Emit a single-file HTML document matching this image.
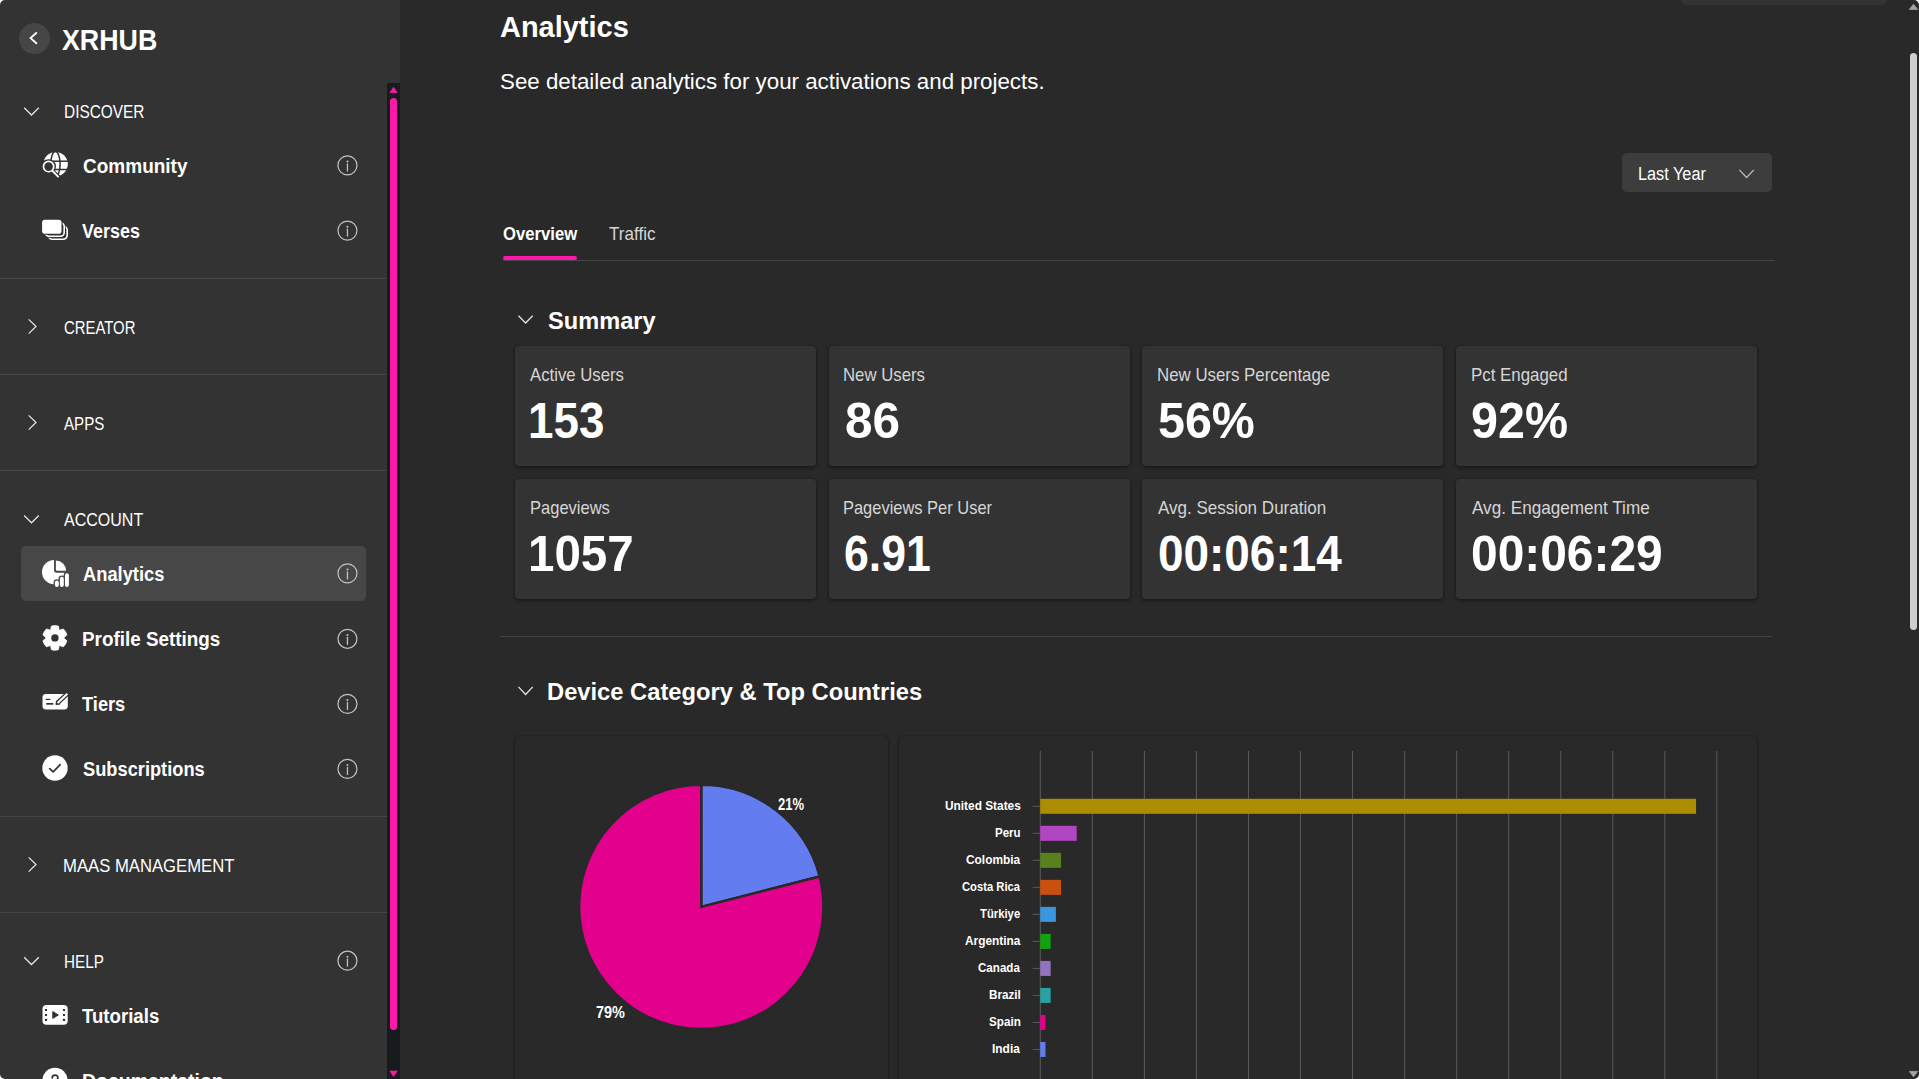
<!DOCTYPE html>
<html lang="en"><head><meta charset="utf-8"><title>XRHUB - Analytics</title>
<style>
html,body{margin:0;padding:0;width:1919px;height:1079px;overflow:hidden;background:#292929;}
body{position:relative;font-family:"Liberation Sans", sans-serif;-webkit-font-smoothing:antialiased;}
.a{position:absolute;display:block;}
.t{position:absolute;display:block;white-space:nowrap;transform-origin:0 50%;font-family:"Liberation Sans", sans-serif;}
.sep{position:absolute;left:0;width:387px;height:1px;background:#454545;}
.card{position:absolute;width:301px;height:119.5px;background:#333333;border-radius:4px;box-shadow:0 0 2px rgba(0,0,0,.30),0 2px 4px rgba(0,0,0,.34);}
.ccard{position:absolute;background:#292929;border-radius:5px;box-shadow:0 0 2px rgba(0,0,0,.30),0 2px 4px rgba(0,0,0,.34);}

</style></head><body>
<div class="a" style="left:0;top:0;width:1919px;height:1079px;background:#292929"></div>
<div class="a" style="left:0;top:0;width:400px;height:1079px;background:#333333"></div>
<div class="a" style="left:387px;top:83px;width:13px;height:996px;background:#181b1d"></div>
<div class="a" style="left:390px;top:98px;width:7px;height:932px;background:#ff17a9;border-radius:3.5px"></div>
<svg class="a" style="left:387px;top:83px" width="13" height="14" viewBox="0 0 13 14"><path d="M2.8 9.8 L6.55 4.2 L10.3 9.8 Z" fill="#ff17a9" stroke="#ff17a9" stroke-width="0.6" stroke-linejoin="round"/></svg>
<svg class="a" style="left:387px;top:1065px" width="13" height="14" viewBox="0 0 13 14"><path d="M2.8 6.0 L6.55 11.6 L10.3 6.0 Z" fill="#ff17a9" stroke="#ff17a9" stroke-width="0.6" stroke-linejoin="round"/></svg>
<div class="a" style="left:18.8px;top:22.8px;width:31.2px;height:31.2px;border-radius:50%;background:#464646"></div>
<svg class="a" style="left:24px;top:28px" width="20" height="20" viewBox="0 0 20 20"><path d="M12.9 4.4 L6.6 10.1 L12.9 15.8" fill="none" stroke="#fff" stroke-width="1.9" stroke-linecap="butt"/></svg>
<div class="sep" style="top:278px"></div>
<div class="sep" style="top:374px"></div>
<div class="sep" style="top:470px"></div>
<div class="sep" style="top:816px"></div>
<div class="sep" style="top:912px"></div>
<div class="a" style="left:21px;top:546px;width:345px;height:55px;border-radius:5px;background:#474747"></div>
<svg class="a" style="left:21px;top:105px" width="22" height="14" viewBox="0 0 22 14"><g transform="translate(0.750 0.300)"><path d="M2.4 2.4 L9.75 9.70 L17.10 2.4" fill="none" stroke="#e6e6e6" stroke-width="1.25" stroke-linecap="butt" stroke-linejoin="miter"/></g></svg>
<svg class="a" style="left:26px;top:317px" width="14" height="20" viewBox="0 0 14 20"><g transform="translate(0.300 0.000)"><path d="M2.4 2.4 L9.70 9.50 L2.4 16.60" fill="none" stroke="#e6e6e6" stroke-width="1.25" stroke-linecap="butt" stroke-linejoin="miter"/></g></svg>
<svg class="a" style="left:26px;top:413px" width="14" height="20" viewBox="0 0 14 20"><g transform="translate(0.300 0.000)"><path d="M2.4 2.4 L9.70 9.50 L2.4 16.60" fill="none" stroke="#e6e6e6" stroke-width="1.25" stroke-linecap="butt" stroke-linejoin="miter"/></g></svg>
<svg class="a" style="left:21px;top:513px" width="22" height="14" viewBox="0 0 22 14"><g transform="translate(0.750 0.100)"><path d="M2.4 2.4 L9.75 9.70 L17.10 2.4" fill="none" stroke="#e6e6e6" stroke-width="1.25" stroke-linecap="butt" stroke-linejoin="miter"/></g></svg>
<svg class="a" style="left:26px;top:855px" width="14" height="20" viewBox="0 0 14 20"><g transform="translate(0.300 0.000)"><path d="M2.4 2.4 L9.70 9.50 L2.4 16.60" fill="none" stroke="#e6e6e6" stroke-width="1.25" stroke-linecap="butt" stroke-linejoin="miter"/></g></svg>
<svg class="a" style="left:21px;top:954px" width="22" height="14" viewBox="0 0 22 14"><g transform="translate(0.750 0.800)"><path d="M2.4 2.4 L9.75 9.70 L17.10 2.4" fill="none" stroke="#e6e6e6" stroke-width="1.25" stroke-linecap="butt" stroke-linejoin="miter"/></g></svg>
<svg class="a" style="left:335px;top:153px" width="26" height="26" viewBox="0 0 26 26"><g transform="translate(0.450 0.400)"><g transform="translate(12 12)"><circle r="9.5" fill="none" stroke="#c4c4c4" stroke-width="1.2"/><circle cy="-3.9" r="1.0" fill="#c4c4c4"/><path d="M0 -1.5 V5.5" stroke="#c4c4c4" stroke-width="1.25" stroke-linecap="round"/></g></g></svg>
<svg class="a" style="left:335px;top:218px" width="26" height="26" viewBox="0 0 26 26"><g transform="translate(0.450 0.600)"><g transform="translate(12 12)"><circle r="9.5" fill="none" stroke="#c4c4c4" stroke-width="1.2"/><circle cy="-3.9" r="1.0" fill="#c4c4c4"/><path d="M0 -1.5 V5.5" stroke="#c4c4c4" stroke-width="1.25" stroke-linecap="round"/></g></g></svg>
<svg class="a" style="left:335px;top:561px" width="26" height="26" viewBox="0 0 26 26"><g transform="translate(0.450 0.400)"><g transform="translate(12 12)"><circle r="9.5" fill="none" stroke="#c4c4c4" stroke-width="1.2"/><circle cy="-3.9" r="1.0" fill="#c4c4c4"/><path d="M0 -1.5 V5.5" stroke="#c4c4c4" stroke-width="1.25" stroke-linecap="round"/></g></g></svg>
<svg class="a" style="left:335px;top:626px" width="26" height="26" viewBox="0 0 26 26"><g transform="translate(0.450 0.800)"><g transform="translate(12 12)"><circle r="9.5" fill="none" stroke="#c4c4c4" stroke-width="1.2"/><circle cy="-3.9" r="1.0" fill="#c4c4c4"/><path d="M0 -1.5 V5.5" stroke="#c4c4c4" stroke-width="1.25" stroke-linecap="round"/></g></g></svg>
<svg class="a" style="left:335px;top:691px" width="26" height="26" viewBox="0 0 26 26"><g transform="translate(0.450 0.900)"><g transform="translate(12 12)"><circle r="9.5" fill="none" stroke="#c4c4c4" stroke-width="1.2"/><circle cy="-3.9" r="1.0" fill="#c4c4c4"/><path d="M0 -1.5 V5.5" stroke="#c4c4c4" stroke-width="1.25" stroke-linecap="round"/></g></g></svg>
<svg class="a" style="left:335px;top:756px" width="26" height="26" viewBox="0 0 26 26"><g transform="translate(0.450 0.900)"><g transform="translate(12 12)"><circle r="9.5" fill="none" stroke="#c4c4c4" stroke-width="1.2"/><circle cy="-3.9" r="1.0" fill="#c4c4c4"/><path d="M0 -1.5 V5.5" stroke="#c4c4c4" stroke-width="1.25" stroke-linecap="round"/></g></g></svg>
<svg class="a" style="left:335px;top:948px" width="26" height="26" viewBox="0 0 26 26"><g transform="translate(0.450 0.700)"><g transform="translate(12 12)"><circle r="9.5" fill="none" stroke="#c4c4c4" stroke-width="1.2"/><circle cy="-3.9" r="1.0" fill="#c4c4c4"/><path d="M0 -1.5 V5.5" stroke="#c4c4c4" stroke-width="1.25" stroke-linecap="round"/></g></g></svg>
<svg class="a" style="left:36px;top:146px" width="41" height="41" viewBox="0 0 41 41"><g transform="translate(0.000 0.000)"><circle cx="19.6" cy="18.1" r="12.2" fill="#fff"/><g fill="none" stroke="#333333" stroke-width="1.5"><path d="M6 15.2 H33"/><path d="M6 23.5 H33"/><ellipse cx="19.4" cy="18.1" rx="4.7" ry="12.6"/></g><circle cx="12.6" cy="20.6" r="7.4" fill="#333333"/><path d="M12.6 20.6 L23.5 32 L5 33 L4 22 Z" fill="#333333"/><path d="M16.6 25.3 L22.3 30.9" stroke="#333333" stroke-width="4.4" stroke-linecap="round"/><circle cx="12.6" cy="20.6" r="5.15" fill="#333333" stroke="#fff" stroke-width="1.7"/><path d="M16.6 25.0 L22.1 30.6" stroke="#fff" stroke-width="1.9" stroke-linecap="round"/></g></svg>
<svg class="a" style="left:36px;top:211px" width="41" height="41" viewBox="0 0 41 41"><g transform="translate(0.000 0.000)"><rect x="12.3" y="15.0" width="18.9" height="13.3" rx="4.2" fill="none" stroke="#fff" stroke-width="1.6"/><rect x="8.4" y="10.9" width="21.2" height="15.9" rx="3.6" fill="#333333"/><rect x="9.3" y="11.8" width="18.9" height="13.5" rx="3.8" fill="none" stroke="#fff" stroke-width="1.6"/><rect x="5.0" y="7.6" width="21.6" height="16.2" rx="3.6" fill="#333333"/><rect x="6.1" y="8.75" width="19.4" height="14.0" rx="2.8" fill="#fff"/></g></svg>
<svg class="a" style="left:36px;top:554px" width="41" height="41" viewBox="0 0 41 41"><g transform="translate(0.000 0.000)"><path d="M18.0 6.05 A12.1 12.1 0 1 0 30.2 18.7 L20.6 18.7 A2.6 2.6 0 0 1 18.0 16.1 Z" fill="#fff"/><path d="M19.9 6.5 V15.4 A1.3 1.3 0 0 0 21.2 16.7 H30.1 A10.4 10.4 0 0 0 19.9 6.5 Z" fill="#fff"/><g stroke="#474747" stroke-width="6.6" stroke-linecap="round"><path d="M20.85 28.6 V30.9"/><path d="M25.85 24.8 V30.9"/><path d="M30.95 21.1 V30.9"/></g><g stroke="#fff" stroke-width="3.9" stroke-linecap="round"><path d="M20.85 28.5 V30.95"/><path d="M25.85 24.8 V30.95"/><path d="M30.95 21.1 V30.95"/></g></g></svg>
<svg class="a" style="left:36px;top:619px" width="41" height="41" viewBox="0 0 41 41"><g transform="translate(0.000 0.000)"><path d="M23.25 11.37 L22.39 7.11 A12.3 12.3 0 0 0 15.41 7.11 L14.55 11.37 L10.43 9.98 A12.3 12.3 0 0 0 6.94 16.03 L10.20 18.90 L6.94 21.77 A12.3 12.3 0 0 0 10.43 27.82 L14.55 26.43 L15.41 30.69 A12.3 12.3 0 0 0 22.39 30.69 L23.25 26.43 L27.37 27.82 A12.3 12.3 0 0 0 30.86 21.77 L27.60 18.90 L30.86 16.03 A12.3 12.3 0 0 0 27.37 9.98 Z" fill="#fff" stroke="#fff" stroke-width="0.8" stroke-linejoin="round"/><circle cx="18.9" cy="18.9" r="3.7" fill="#333333"/></g></svg>
<svg class="a" style="left:36px;top:682px" width="41" height="41" viewBox="0 0 41 41"><g transform="translate(0.000 0.000)"><rect x="6.5" y="11.9" width="25.3" height="15.5" rx="3.4" fill="#fff"/><path d="M10.2 17.4 H13.8" stroke="#333333" stroke-width="1.4" stroke-linecap="round"/><path d="M10.2 21.85 H17.3" stroke="#333333" stroke-width="1.7" stroke-linecap="butt"/><path d="M21.2 21.3 L31.2 11.9" stroke="#333333" stroke-width="4.6" stroke-linecap="butt"/><path d="M20.3 22.2 l0.6 -2.9 l2.4 2.3 z" fill="#333333" stroke="#333333" stroke-width="1.6" stroke-linejoin="round"/><path d="M21.6 21.0 L31.3 11.8" stroke="#fff" stroke-width="2.1" stroke-linecap="butt"/></g></svg>
<svg class="a" style="left:35px;top:748px" width="41" height="41" viewBox="0 0 41 41"><g transform="translate(0.000 0.000)"><circle cx="20" cy="20" r="12.7" fill="#fff"/><path d="M14.7 20.6 L18.2 23.9 L25.2 16.6" fill="none" stroke="#333333" stroke-width="1.7" stroke-linecap="round" stroke-linejoin="round"/></g></svg>
<svg class="a" style="left:36px;top:995px" width="41" height="41" viewBox="0 0 41 41"><g transform="translate(0.000 0.000)"><rect x="6.5" y="9.9" width="25.2" height="19.9" rx="4.0" fill="#fff"/><rect x="8.95" y="13.95" width="2.1" height="2.1" rx="0.3" fill="#333333"/><rect x="8.95" y="18.9" width="2.1" height="2.1" rx="0.3" fill="#333333"/><rect x="8.95" y="23.849999999999998" width="2.1" height="2.1" rx="0.3" fill="#333333"/><rect x="26.95" y="13.95" width="2.1" height="2.1" rx="0.3" fill="#333333"/><rect x="26.95" y="18.9" width="2.1" height="2.1" rx="0.3" fill="#333333"/><rect x="26.95" y="23.849999999999998" width="2.1" height="2.1" rx="0.3" fill="#333333"/><path d="M16.8 16.6 V23.4 L22.3 20 Z" fill="#333333" stroke="#333333" stroke-width="1.0" stroke-linejoin="round"/></g></svg>
<svg class="a" style="left:35px;top:1060px" width="41" height="42" viewBox="0 0 41 42"><g transform="translate(0.000 0.400)"><circle cx="20" cy="20" r="12.7" fill="#fff"/><path d="M17.2 17.6 C17.2 13.8 22.9 13.9 22.9 17.3 C22.9 19.6 20.1 19.6 20.1 22.3" fill="none" stroke="#333333" stroke-width="1.7" stroke-linecap="round"/><circle cx="20.1" cy="25.3" r="1.1" fill="#333333"/></g></svg>
<div class="a" style="left:1681px;top:-4px;width:206px;height:9px;background:#333;border-radius:0 0 5px 5px"></div>
<div class="a" style="left:1910px;top:52.5px;width:7px;height:577px;background:#cfcfcf;border-radius:3.5px"></div>
<svg class="a" style="left:1906px;top:0" width="13" height="14" viewBox="0 0 13 14"><path d="M3.3 9.4 L7.5 4.2 L11.7 9.4 Z" fill="#a3a3a3" stroke="#a3a3a3" stroke-width="0.8" stroke-linejoin="round"/></svg>
<svg class="a" style="left:1906px;top:1065px" width="13" height="14" viewBox="0 0 13 14"><path d="M3.3 6.4 L7.5 11.8 L11.7 6.4 Z" fill="#a3a3a3" stroke="#a3a3a3" stroke-width="0.8" stroke-linejoin="round"/></svg>
<div class="a" style="left:1622px;top:153px;width:150px;height:39px;border-radius:5px;background:#3d3d3d"></div>
<svg class="a" style="left:1736px;top:167px" width="22" height="14" viewBox="0 0 22 14"><g transform="translate(0.950 0.400)"><path d="M2.4 2.4 L9.65 10.10 L16.90 2.4" fill="none" stroke="#bdbdbd" stroke-width="1.2" stroke-linecap="butt" stroke-linejoin="miter"/></g></svg>
<div class="a" style="left:503px;top:260px;width:1272px;height:1px;background:#454545"></div>
<div class="a" style="left:503px;top:256px;width:74px;height:4px;border-radius:2px;background:#ff17a9"></div>
<svg class="a" style="left:516px;top:313px" width="21" height="14" viewBox="0 0 21 14"><g transform="translate(0.100 0.300)"><path d="M2.4 2.4 L9.50 9.70 L16.60 2.4" fill="none" stroke="#e6e6e6" stroke-width="1.25" stroke-linecap="butt" stroke-linejoin="miter"/></g></svg>
<svg class="a" style="left:516px;top:684px" width="21" height="15" viewBox="0 0 21 15"><g transform="translate(0.100 0.400)"><path d="M2.4 2.4 L9.50 10.10 L16.60 2.4" fill="none" stroke="#e6e6e6" stroke-width="1.25" stroke-linecap="butt" stroke-linejoin="miter"/></g></svg>
<div class="a" style="left:500px;top:636px;width:1272px;height:1px;background:#454545"></div>
<div class="card" style="left:515px;top:346.4px"></div>
<div class="card" style="left:829px;top:346.4px"></div>
<div class="card" style="left:1142px;top:346.4px"></div>
<div class="card" style="left:1456px;top:346.4px"></div>
<div class="card" style="left:515px;top:479.4px"></div>
<div class="card" style="left:829px;top:479.4px"></div>
<div class="card" style="left:1142px;top:479.4px"></div>
<div class="card" style="left:1456px;top:479.4px"></div>
<div class="ccard" style="left:515px;top:736.3px;width:373px;height:400px"></div>
<div class="ccard" style="left:899.3px;top:736.3px;width:858px;height:400px"></div>
<svg class="a" style="left:0;top:0" width="1919" height="1079" viewBox="0 0 1919 1079"><path d="M701.3 906.9 L701.3 784.8 A122.1 122.1 0 0 1 819.56 876.53 Z" fill="#637cef" stroke="#292929" stroke-width="2.4" stroke-linejoin="miter"/><path d="M701.3 906.9 L819.56 876.53 A122.1 122.1 0 1 1 701.3 784.8 Z" fill="#e3008c" stroke="#292929" stroke-width="2.4" stroke-linejoin="miter"/><path d="M1040.30 751 V1079" stroke="#5a5a5a" stroke-width="1"/><path d="M1092.35 751 V1079" stroke="#5a5a5a" stroke-width="1"/><path d="M1144.39 751 V1079" stroke="#5a5a5a" stroke-width="1"/><path d="M1196.43 751 V1079" stroke="#5a5a5a" stroke-width="1"/><path d="M1248.48 751 V1079" stroke="#5a5a5a" stroke-width="1"/><path d="M1300.53 751 V1079" stroke="#5a5a5a" stroke-width="1"/><path d="M1352.57 751 V1079" stroke="#5a5a5a" stroke-width="1"/><path d="M1404.62 751 V1079" stroke="#5a5a5a" stroke-width="1"/><path d="M1456.66 751 V1079" stroke="#5a5a5a" stroke-width="1"/><path d="M1508.70 751 V1079" stroke="#5a5a5a" stroke-width="1"/><path d="M1560.75 751 V1079" stroke="#5a5a5a" stroke-width="1"/><path d="M1612.80 751 V1079" stroke="#5a5a5a" stroke-width="1"/><path d="M1664.84 751 V1079" stroke="#5a5a5a" stroke-width="1"/><path d="M1716.88 751 V1079" stroke="#5a5a5a" stroke-width="1"/><path d="M1032.7 806.30 H1040" stroke="#5a5a5a" stroke-width="1"/><rect x="1040.25" y="798.80" width="655.83" height="15" fill="#ae8c00"/><path d="M1032.7 833.32 H1040" stroke="#5a5a5a" stroke-width="1"/><rect x="1040.25" y="825.82" width="36.44" height="15" fill="#b146c2"/><path d="M1032.7 860.34 H1040" stroke="#5a5a5a" stroke-width="1"/><rect x="1040.25" y="852.84" width="20.82" height="15" fill="#57811b"/><path d="M1032.7 887.36 H1040" stroke="#5a5a5a" stroke-width="1"/><rect x="1040.25" y="879.86" width="20.82" height="15" fill="#ca5010"/><path d="M1032.7 914.38 H1040" stroke="#5a5a5a" stroke-width="1"/><rect x="1040.25" y="906.88" width="15.62" height="15" fill="#3a96dd"/><path d="M1032.7 941.40 H1040" stroke="#5a5a5a" stroke-width="1"/><rect x="1040.25" y="933.90" width="10.41" height="15" fill="#13a10e"/><path d="M1032.7 968.42 H1040" stroke="#5a5a5a" stroke-width="1"/><rect x="1040.25" y="960.92" width="10.41" height="15" fill="#9373c0"/><path d="M1032.7 995.44 H1040" stroke="#5a5a5a" stroke-width="1"/><rect x="1040.25" y="987.94" width="10.41" height="15" fill="#2aa0a4"/><path d="M1032.7 1022.46 H1040" stroke="#5a5a5a" stroke-width="1"/><rect x="1040.25" y="1014.96" width="5.21" height="15" fill="#e3008c"/><path d="M1032.7 1049.48 H1040" stroke="#5a5a5a" stroke-width="1"/><rect x="1040.25" y="1041.98" width="5.21" height="15" fill="#637cef"/></svg>
<span class="t" style="left:62.40px;top:25.65px;font-size:29px;line-height:29px;font-weight:700;color:#fff;transform:scaleX(0.9239)">XRHUB</span>
<span class="t" style="left:63.57px;top:103.24px;font-size:18.5px;line-height:18.5px;font-weight:400;color:#fff;transform:scaleX(0.8329)">DISCOVER</span>
<span class="t" style="left:64.10px;top:318.84px;font-size:18.5px;line-height:18.5px;font-weight:400;color:#fff;transform:scaleX(0.8050)">CREATOR</span>
<span class="t" style="left:64.00px;top:414.84px;font-size:18.5px;line-height:18.5px;font-weight:400;color:#fff;transform:scaleX(0.8160)">APPS</span>
<span class="t" style="left:64.00px;top:510.84px;font-size:18.5px;line-height:18.5px;font-weight:400;color:#fff;transform:scaleX(0.8654)">ACCOUNT</span>
<span class="t" style="left:63.35px;top:856.84px;font-size:18.5px;line-height:18.5px;font-weight:400;color:#fff;transform:scaleX(0.9015)">MAAS MANAGEMENT</span>
<span class="t" style="left:63.58px;top:952.84px;font-size:18.5px;line-height:18.5px;font-weight:400;color:#fff;transform:scaleX(0.8236)">HELP</span>
<span class="t" style="left:82.75px;top:155.57px;font-size:20px;line-height:20px;font-weight:700;color:#fff;transform:scaleX(0.9502)">Community</span>
<span class="t" style="left:82.25px;top:220.82px;font-size:20px;line-height:20px;font-weight:700;color:#fff;transform:scaleX(0.8969)">Verses</span>
<span class="t" style="left:82.50px;top:563.67px;font-size:20px;line-height:20px;font-weight:700;color:#fff;transform:scaleX(0.9149)">Analytics</span>
<span class="t" style="left:81.56px;top:629.07px;font-size:20px;line-height:20px;font-weight:700;color:#fff;transform:scaleX(0.9429)">Profile Settings</span>
<span class="t" style="left:82.25px;top:694.07px;font-size:20px;line-height:20px;font-weight:700;color:#fff;transform:scaleX(0.9119)">Tiers</span>
<span class="t" style="left:82.50px;top:759.07px;font-size:20px;line-height:20px;font-weight:700;color:#fff;transform:scaleX(0.9127)">Subscriptions</span>
<span class="t" style="left:82.25px;top:1005.82px;font-size:20px;line-height:20px;font-weight:700;color:#fff;transform:scaleX(0.9312)">Tutorials</span>
<span class="t" style="left:81.53px;top:1071.07px;font-size:20px;line-height:20px;font-weight:700;color:#fff;transform:scaleX(0.9732)">Documentation</span>
<span class="t" style="left:500.00px;top:11.50px;font-size:30px;line-height:30px;font-weight:700;color:#fff;transform:scaleX(0.9653)">Analytics</span>
<span class="t" style="left:499.60px;top:70.52px;font-size:22.3px;line-height:22.3px;font-weight:400;color:#fff;transform:scaleX(1.0009)">See detailed analytics for your activations and projects.</span>
<span class="t" style="left:502.50px;top:225.04px;font-size:18.5px;line-height:18.5px;font-weight:700;color:#fff;transform:scaleX(0.9019)">Overview</span>
<span class="t" style="left:608.50px;top:225.04px;font-size:18.5px;line-height:18.5px;font-weight:400;color:#d6d6d6;transform:scaleX(0.9228)">Traffic</span>
<span class="t" style="left:1637.70px;top:164.51px;font-size:18px;line-height:18px;font-weight:400;color:#fff;transform:scaleX(0.9046)">Last Year</span>
<span class="t" style="left:547.90px;top:308.81px;font-size:24.2px;line-height:24.2px;font-weight:700;color:#fff;transform:scaleX(0.9758)">Summary</span>
<span class="t" style="left:546.52px;top:679.63px;font-size:24.3px;line-height:24.3px;font-weight:700;color:#fff;transform:scaleX(0.9763)">Device Category &amp; Top Countries</span>
<span class="t" style="left:530.00px;top:366.22px;font-size:18.4px;line-height:18.4px;font-weight:400;color:#d6d6d6;transform:scaleX(0.9100)">Active Users</span>
<span class="t" style="left:843.49px;top:366.22px;font-size:18.4px;line-height:18.4px;font-weight:400;color:#d6d6d6;transform:scaleX(0.9112)">New Users</span>
<span class="t" style="left:1156.88px;top:366.22px;font-size:18.4px;line-height:18.4px;font-weight:400;color:#d6d6d6;transform:scaleX(0.9161)">New Users Percentage</span>
<span class="t" style="left:1470.58px;top:366.22px;font-size:18.4px;line-height:18.4px;font-weight:400;color:#d6d6d6;transform:scaleX(0.9175)">Pct Engaged</span>
<span class="t" style="left:529.70px;top:499.22px;font-size:18.4px;line-height:18.4px;font-weight:400;color:#d6d6d6;transform:scaleX(0.8981)">Pageviews</span>
<span class="t" style="left:843.11px;top:499.22px;font-size:18.4px;line-height:18.4px;font-weight:400;color:#d6d6d6;transform:scaleX(0.8944)">Pageviews Per User</span>
<span class="t" style="left:1157.80px;top:499.22px;font-size:18.4px;line-height:18.4px;font-weight:400;color:#d6d6d6;transform:scaleX(0.9261)">Avg. Session Duration</span>
<span class="t" style="left:1471.50px;top:499.22px;font-size:18.4px;line-height:18.4px;font-weight:400;color:#d6d6d6;transform:scaleX(0.9312)">Avg. Engagement Time</span>
<span class="t" style="left:527.83px;top:397.01px;font-size:49.6px;line-height:49.6px;font-weight:700;color:#fff;transform:scaleX(0.9231)">153</span>
<span class="t" style="left:844.60px;top:397.01px;font-size:49.6px;line-height:49.6px;font-weight:700;color:#fff;transform:scaleX(0.9984)">86</span>
<span class="t" style="left:1157.82px;top:397.01px;font-size:49.6px;line-height:49.6px;font-weight:700;color:#fff;transform:scaleX(0.9757)">56%</span>
<span class="t" style="left:1471.02px;top:397.01px;font-size:49.6px;line-height:49.6px;font-weight:700;color:#fff;transform:scaleX(0.9777)">92%</span>
<span class="t" style="left:527.73px;top:530.11px;font-size:49.6px;line-height:49.6px;font-weight:700;color:#fff;transform:scaleX(0.9580)">1057</span>
<span class="t" style="left:844.10px;top:530.11px;font-size:49.6px;line-height:49.6px;font-weight:700;color:#fff;transform:scaleX(0.8995)">6.91</span>
<span class="t" style="left:1157.57px;top:530.11px;font-size:49.6px;line-height:49.6px;font-weight:700;color:#fff;transform:scaleX(0.9255)">00:06:14</span>
<span class="t" style="left:1471.03px;top:530.11px;font-size:49.6px;line-height:49.6px;font-weight:700;color:#fff;transform:scaleX(0.9656)">00:06:29</span>
<span class="t" style="left:777.50px;top:796.32px;font-size:16.4px;line-height:16.4px;font-weight:700;color:#fff;transform:scaleX(0.7944)">21%</span>
<span class="t" style="left:595.50px;top:1004.12px;font-size:16.4px;line-height:16.4px;font-weight:700;color:#fff;transform:scaleX(0.8817)">79%</span>
<span class="t" style="left:945.25px;top:798.67px;font-size:13.5px;line-height:13.5px;font-weight:700;color:#fff;transform:scaleX(0.8786)">United States</span>
<span class="t" style="left:995.25px;top:825.69px;font-size:13.5px;line-height:13.5px;font-weight:700;color:#fff;transform:scaleX(0.8516)">Peru</span>
<span class="t" style="left:966.00px;top:852.71px;font-size:13.5px;line-height:13.5px;font-weight:700;color:#fff;transform:scaleX(0.8807)">Colombia</span>
<span class="t" style="left:962.10px;top:879.73px;font-size:13.5px;line-height:13.5px;font-weight:700;color:#fff;transform:scaleX(0.8325)">Costa Rica</span>
<span class="t" style="left:980.00px;top:906.75px;font-size:13.5px;line-height:13.5px;font-weight:700;color:#fff;transform:scaleX(0.8369)">Türkiye</span>
<span class="t" style="left:964.70px;top:933.77px;font-size:13.5px;line-height:13.5px;font-weight:700;color:#fff;transform:scaleX(0.8804)">Argentina</span>
<span class="t" style="left:978.30px;top:960.79px;font-size:13.5px;line-height:13.5px;font-weight:700;color:#fff;transform:scaleX(0.8587)">Canada</span>
<span class="t" style="left:989.40px;top:987.81px;font-size:13.5px;line-height:13.5px;font-weight:700;color:#fff;transform:scaleX(0.8664)">Brazil</span>
<span class="t" style="left:989.00px;top:1014.83px;font-size:13.5px;line-height:13.5px;font-weight:700;color:#fff;transform:scaleX(0.8655)">Spain</span>
<span class="t" style="left:992.30px;top:1041.85px;font-size:13.5px;line-height:13.5px;font-weight:700;color:#fff;transform:scaleX(0.8845)">India</span>
<svg class="a" style="left:0px;top:0px" width="5" height="5" viewBox="0 0 5 5"><g transform="translate(0 0) scale(1 1)"><path d="M0 0 H5 A5 5 0 0 0 0 5 Z" fill="#fff"/></g></svg>
<svg class="a" style="left:1914px;top:0px" width="5" height="5" viewBox="0 0 5 5"><g transform="translate(5 0) scale(-1 1)"><path d="M0 0 H5 A5 5 0 0 0 0 5 Z" fill="#fff"/></g></svg>
<svg class="a" style="left:0px;top:1074px" width="5" height="5" viewBox="0 0 5 5"><g transform="translate(0 5) scale(1 -1)"><path d="M0 0 H5 A5 5 0 0 0 0 5 Z" fill="#fff"/></g></svg>
<svg class="a" style="left:1914px;top:1074px" width="5" height="5" viewBox="0 0 5 5"><g transform="translate(5 5) scale(-1 -1)"><path d="M0 0 H5 A5 5 0 0 0 0 5 Z" fill="#fff"/></g></svg>
</body></html>
